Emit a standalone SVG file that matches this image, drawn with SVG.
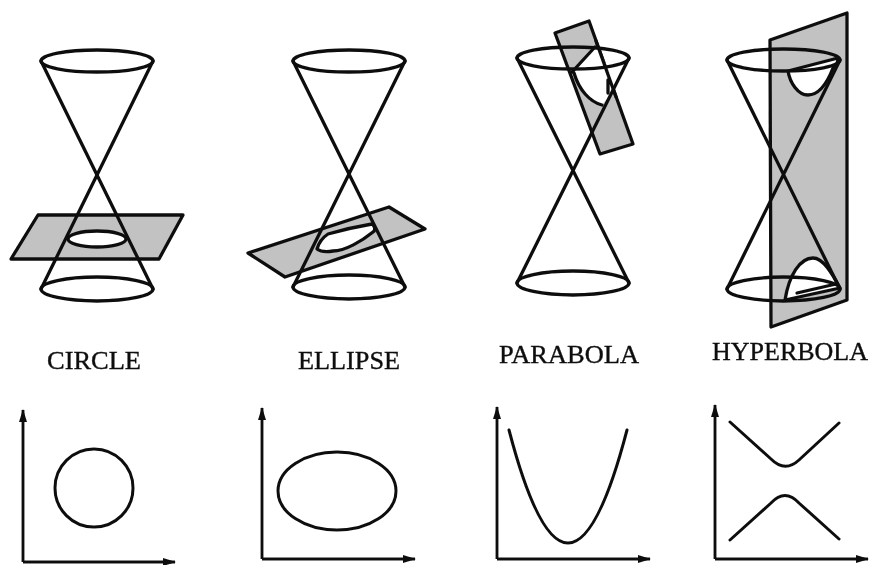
<svg xmlns="http://www.w3.org/2000/svg" width="870" height="565" viewBox="0 0 870 565">
<style>
.l{fill:none;stroke:#111;stroke-width:3.3;stroke-linejoin:round;stroke-linecap:round}
.p{fill:#c2c2c2;stroke:#111;stroke-width:3.3;stroke-linejoin:round}
.w{fill:#fff;stroke:#111;stroke-width:3.3;stroke-linejoin:round}
.n{fill:#fff;stroke:none}
.a{fill:none;stroke:#111;stroke-width:2.8;marker-end:url(#h)}
.c{fill:none;stroke:#111;stroke-width:3;stroke-linecap:round}
text{font-family:"Liberation Serif","Times New Roman",serif;font-size:26px;fill:#111;stroke:#111;stroke-width:.4}
</style>
<defs>
<marker id="h" markerUnits="userSpaceOnUse" markerWidth="13" markerHeight="8" refX="12" refY="4" orient="auto"><path d="M0 0L13 4L0 8Z" fill="#111"/></marker>
<filter id="soft" filterUnits="userSpaceOnUse" x="0" y="0" width="870" height="565"><feGaussianBlur stdDeviation="0.5"/></filter>
</defs>
<rect width="870" height="565" fill="#fff"/>
<g filter="url(#soft)">
<g id="circle-cone">
<path class="p" d="M38 215H183L159 259H11Z"/>
<ellipse class="w" cx="97" cy="239" rx="29" ry="8"/>
<path class="l" d="M41 61L153 289M153 61L41 289"/>
<ellipse class="l" cx="97" cy="61" rx="56" ry="11"/>
<ellipse class="l" cx="97" cy="289" rx="56" ry="12"/>
</g>
<g id="ellipse-cone">
<path class="p" d="M248 253L389 207L425 229L285 277Z"/>
<path class="w" d="M317 249C319 242 322 238 328 234C342 230 360 226 372 224C376 227 375 231 373 232C362 241 345 251 333 251C327 252 321 252 317 249Z"/>
<path class="l" d="M293 61L405 287M405 61L293 287"/>
<ellipse class="l" cx="349" cy="61" rx="56" ry="11"/>
<ellipse class="l" cx="349" cy="287" rx="56" ry="12"/>
</g>
<g id="parabola-cone">
<path class="p" d="M555 33L589 21L633 144L600 154Z"/>
<path class="n" d="M572 72L595 47L598 47L615 84L611 94L602 105C590 101 579 89 572 72Z"/>
<path class="l" d="M572 72L595 47M574 73C579 90 590 102 602 105M608 80V93M596 41L616 97"/>
<path class="l" d="M517 58L629 283M629 58L517 283"/>
<ellipse class="l" cx="573" cy="58" rx="56" ry="11"/>
<ellipse class="l" cx="573" cy="283" rx="56" ry="12"/>
</g>
<g id="hyperbola-cone">
<path class="p" d="M770 40L847 13V300L771 327Z"/>
<path class="w" d="M788 71L838 58C838 62 836 66 833 68C826 86 817 95 808 95C798 95 790 83 788 71Z"/>
<path class="w" d="M785 300C789 275 800 258 813 258C823 258 832 273 840 288Z"/>
<path class="l" d="M797 293L836 284"/>
<path class="l" d="M727 60L840 289M840 60L727 289"/>
<ellipse class="l" cx="783.500" cy="60" rx="56.500" ry="11"/>
<ellipse class="l" cx="783.500" cy="289" rx="56.500" ry="12"/>
</g>
<g id="labels">
<text x="47" y="369" textLength="94" lengthAdjust="spacingAndGlyphs">CIRCLE</text>
<text x="298" y="369" textLength="102" lengthAdjust="spacingAndGlyphs">ELLIPSE</text>
<text x="499" y="363" textLength="140" lengthAdjust="spacingAndGlyphs">PARABOLA</text>
<text x="712" y="360" textLength="156" lengthAdjust="spacingAndGlyphs">HYPERBOLA</text>
</g>
<g id="connectors">
<path class="a" d="M23 562V410"/><path class="a" d="M23 562H175"/>
<path class="a" d="M262 559V408"/><path class="a" d="M262 559H415"/>
<path class="a" d="M497 559V407"/><path class="a" d="M497 559H650"/>
<path class="a" d="M715 559V405"/><path class="a" d="M715 559H868"/>
</g>
<g id="circle-graph"><circle class="c" cx="94" cy="488" r="39"/></g>
<g id="ellipse-graph"><ellipse class="c" cx="337" cy="491" rx="59" ry="39"/></g>
<g id="parabola-graph"><path class="c" d="M509 430Q568 656 627 430"/></g>
<g id="hyperbola-graph">
<path class="c" d="M730 422L771 459Q785 473 799 460L839 423"/>
<path class="c" d="M730 540L771 503Q785 488 799 503L839 539"/>
</g>
</g>
</svg>
